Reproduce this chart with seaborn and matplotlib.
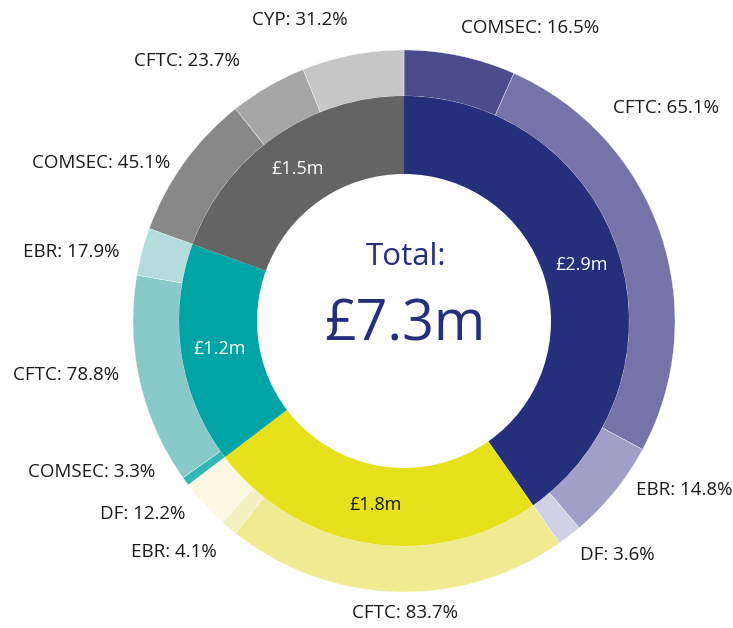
import numpy as np
import matplotlib
matplotlib.use("Agg")
import matplotlib.pyplot as plt
import seaborn as sns

# ---------------- data ----------------
inner_names = ["Navy", "Yellow", "Teal", "Grey"]
inner_values = [2.94, 1.78, 1.16, 1.42]          # £m
inner_labels = ["£2.9m", "£1.8m", "£1.2m", "£1.5m"]

navy_cats = ["COMSEC", "CFTC", "EBR", "DF"]
navy_pct = [16.5, 65.1, 14.8, 3.6]
yellow_cats = ["CFTC", "EBR", "DF"]
yellow_pct = [83.7, 4.1, 12.2]
teal_cats = ["COMSEC", "CFTC", "EBR"]
teal_pct = [3.3, 78.8, 17.9]
grey_cats = ["COMSEC", "CFTC", "CYP"]
grey_pct = [45.1, 23.7, 31.2]

total_label = "£7.3m"

# ---------------- styles ----------------
inner_colors = ["#252f7b", "#e6e11a", "#00a4a4", "#646464"]
outer_colors = [
    ["#4a4c8c", "#7574a9", "#a09fc8", "#d1d0e6"],
    ["#f0eb91", "#f4f0c2", "#faf8e0"],
    ["#33b6b6", "#88c9c9", "#b5dcdc"],
    ["#888888", "#a6a6a6", "#c6c6c6"],
]
inner_text_colors = ["white", "#1a1a1a", "white", "white"]

sns.set_theme(style="white")
plt.rcParams["font.family"] = ["Open Sans", "DejaVu Sans"]

W, H = 733, 628
CX, CY, R = 404, 321, 271.0

def px(x, y):
    return (x - CX) / R, (CY - y) / R

fig = plt.figure(figsize=(W / 100, H / 100), dpi=100)
ax = fig.add_axes([0, 0, 1, 1])

groups = [(navy_cats, navy_pct), (yellow_cats, yellow_pct),
          (teal_cats, teal_pct), (grey_cats, grey_pct)]
outer_vals, outer_cols, outer_txt = [], [], []
for (cats, pcts), val, cols in zip(groups, inner_values, outer_colors):
    for c, p, col in zip(cats, pcts, cols):
        outer_vals.append(val * p / 100.0)
        outer_cols.append(col)
        outer_txt.append(f"{c}: {p}%")

r_in_outer = 225 / R
r_hole = 147 / R

ax.pie(outer_vals, radius=1.0, startangle=90, counterclock=False,
       colors=outer_cols,
       wedgeprops=dict(width=1.0 - r_in_outer, edgecolor="white", linewidth=0.25))
ax.pie(inner_values, radius=r_in_outer, startangle=90, counterclock=False,
       colors=inner_colors,
       wedgeprops=dict(width=r_in_outer - r_hole, edgecolor="none", linewidth=0))

# inner labels at mid-angle of each inner wedge
tot = sum(inner_values)
cum = 0.0
r_mid = (r_in_outer + r_hole) / 2
for v, lab, tc in zip(inner_values, inner_labels, inner_text_colors):
    a = np.deg2rad(90 - (cum + v / 2) / tot * 360)
    ax.text(r_mid * np.cos(a), r_mid * np.sin(a), lab, ha="center", va="center",
            color=tc, fontsize=13)
    cum += v

# outer labels: anchor pixel positions (layout) and alignment
label_pos = [
    (461, 28, "left"), (613, 108, "left"), (636, 490, "left"), (580, 555, "left"),
    (405, 613, "center"), (217, 552, "right"), (185, 514, "right"),
    (155, 472, "right"),
    (119, 375, "right"), (119, 252, "right"),
    (170, 163, "right"), (240, 61, "right"), (300, 20, "center"),
]
for txt, (x, y, ha) in zip(outer_txt, label_pos):
    xx, yy = px(x, y)
    ax.text(xx, yy, txt, ha=ha, va="center", color="#1a1a1a", fontsize=13.5)

x0, y0 = px(406, 257)
ax.text(x0, y0, "Total:", ha="center", va="center", color="#252f7b", fontsize=22.5)
x1, y1 = px(405, 326)
ax.text(x1, y1, total_label, ha="center", va="center", color="#252f7b", fontsize=40)

ax.set_xlim(-CX / R, (W - CX) / R)
ax.set_ylim(-(H - CY) / R, CY / R)
ax.set_aspect("equal")
ax.axis("off")
fig.savefig("out.png", dpi=100, facecolor="white")
